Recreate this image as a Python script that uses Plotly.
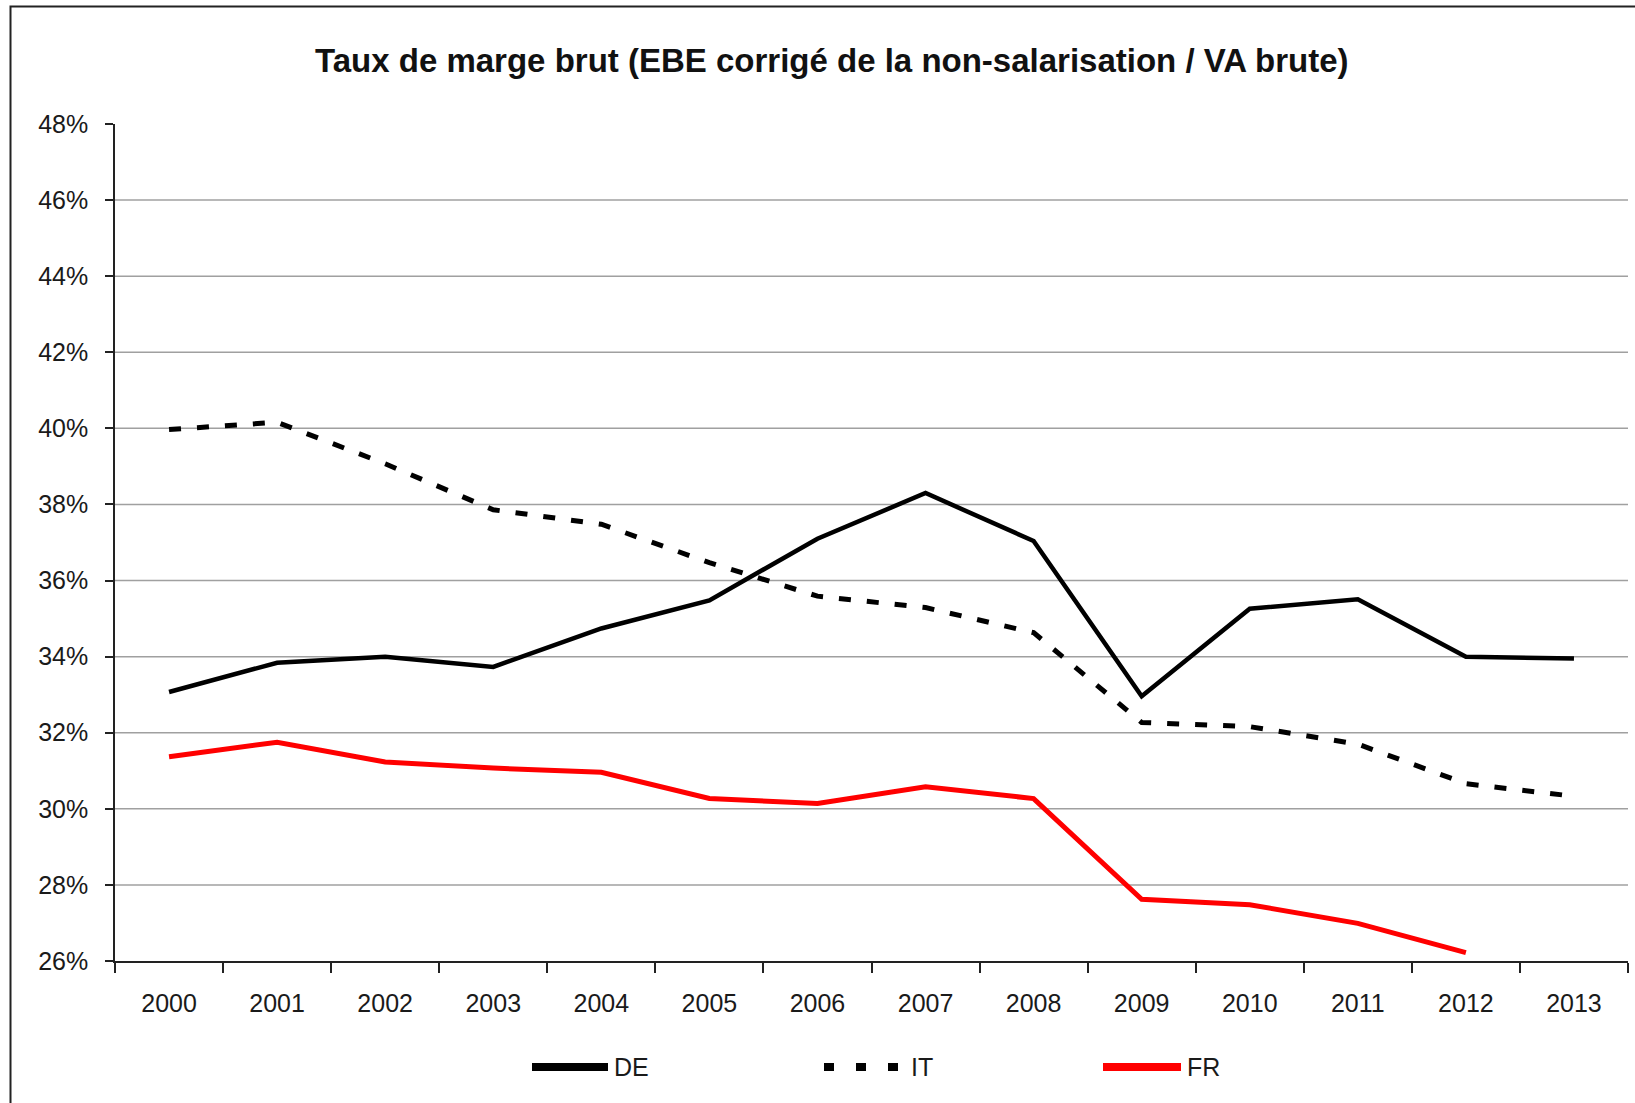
import plotly.graph_objects as go

years = ["2000", "2001", "2002", "2003", "2004", "2005", "2006",
         "2007", "2008", "2009", "2010", "2011", "2012", "2013"]
de = [33.07, 33.84, 34.00, 33.73, 34.74, 35.48, 37.10, 38.30, 37.04, 32.96, 35.26, 35.51, 34.00, 33.95]
it = [39.97, 40.16, 39.07, 37.86, 37.48, 36.47, 35.59, 35.29, 34.63, 32.27, 32.16, 31.70, 30.66, 30.33]
fr = [31.37, 31.75, 31.23, 31.07, 30.96, 30.27, 30.14, 30.58, 30.27, 27.62, 27.48, 26.99, 26.22, None]
y_ticks = [26, 28, 30, 32, 34, 36, 38, 40, 42, 44, 46, 48]
y_labels = [f"{v}%" for v in y_ticks]
grid_vals = [28, 30, 32, 34, 36, 38, 40, 42, 44, 46]
title = "Taux de marge brut (EBE corrigé de la non-salarisation / VA brute)"

W, H = 1635, 1103
L, R, T, B = 115, 1628, 124, 961
FONT = "Liberation Sans, Arial, sans-serif"

def px(x):
    return (x - L) / (R - L)

def py(y):
    return (B - y) / (B - T)

fig = go.Figure()
fig.add_trace(go.Scatter(x=years, y=de, mode="lines", name="DE",
                         line=dict(color="black", width=4.5), showlegend=False))
fig.add_trace(go.Scatter(x=years, y=it, mode="lines", name="IT",
                         line=dict(color="black", width=5, dash="12px,16px"), showlegend=False))
fig.add_trace(go.Scatter(x=years, y=fr, mode="lines", name="FR",
                         line=dict(color="#ff0000", width=5), showlegend=False))

shapes = []
for g in grid_vals:
    shapes.append(dict(type="line", xref="paper", yref="y", x0=0, x1=1, y0=g, y1=g,
                       line=dict(color="#a0a0a0", width=1.5), layer="below"))
# outer frame
shapes.append(dict(type="rect", xref="paper", yref="paper",
                   x0=px(10.5), x1=px(W + 20), y0=py(H + 20), y1=py(6.5),
                   line=dict(color="#222", width=2), layer="below"))

# custom legend
leg_y = py(1067)
legend_items = [("DE", 532, 608, dict(color="black", width=8)),
                ("IT", 824, 905, dict(color="black", width=8, dash="10px,22px")),
                ("FR", 1103, 1181, dict(color="#ff0000", width=8))]
annotations = []
for name, x0, x1, ln in legend_items:
    shapes.append(dict(type="line", xref="paper", yref="paper",
                       x0=px(x0), x1=px(x1), y0=leg_y, y1=leg_y, line=ln))
    annotations.append(dict(text=name, xref="paper", yref="paper", x=px(x1 + 4), y=leg_y,
                            xanchor="left", yanchor="middle", showarrow=False,
                            font=dict(family=FONT, size=25, color="#1a1a1a")))

annotations.append(dict(text="<b>" + title + "</b>", xref="paper", yref="paper",
                        x=px(832), y=py(60), xanchor="center", yanchor="middle",
                        showarrow=False, font=dict(family=FONT, size=33, color="#111")))

fig.update_layout(
    width=W, height=H,
    margin=dict(l=L, r=W - R, t=T, b=H - B),
    paper_bgcolor="white", plot_bgcolor="white",
    shapes=shapes, annotations=annotations,
    showlegend=False,
    xaxis=dict(type="category", tickson="boundaries", ticks="outside", ticklen=10,
               tickwidth=1.5, tickcolor="#222", showline=True, linecolor="#222", linewidth=1.5,
               showgrid=False, tickfont=dict(family=FONT, size=25, color="#1a1a1a"),
               ticklabelstandoff=19, range=[-0.5, 13.5]),
    yaxis=dict(range=[26, 48], tickmode="array", tickvals=y_ticks, ticktext=y_labels,
               ticks="outside", ticklen=8,
               tickwidth=1.5, tickcolor="#222", showline=True, linecolor="#222", linewidth=1.5,
               showgrid=False, zeroline=False,
               tickfont=dict(family=FONT, size=25, color="#1a1a1a"), ticklabelstandoff=12),
)

fig.write_html("out.html", config={"displayModeBar": False},
               post_script="document.body.style.margin='0';")
